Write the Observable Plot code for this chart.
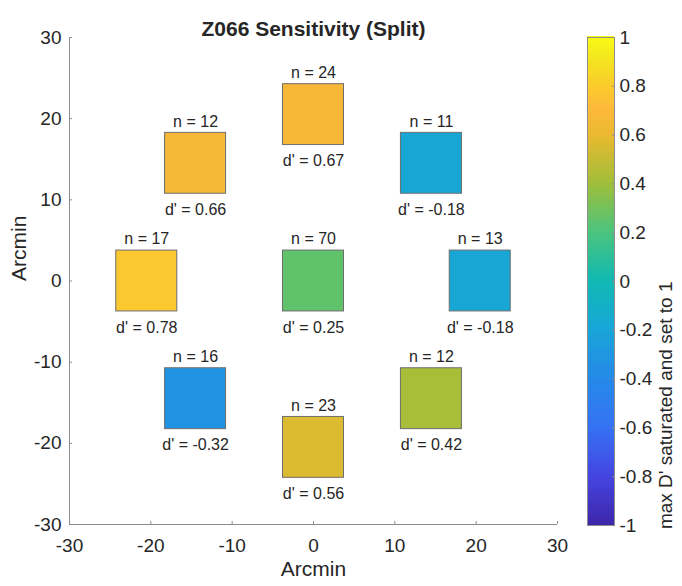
<!DOCTYPE html>
<html>
<head>
<meta charset="utf-8">
<script src="https://cdn.jsdelivr.net/npm/d3@7"></script>
<script src="https://cdn.jsdelivr.net/npm/@observablehq/plot@0.6"></script>
<style>
  html, body { margin: 0; padding: 0; background: white; }
  #wrap { position: relative; width: 682px; height: 586px; }
  #wrap svg { position: absolute; left: 0; top: 0; }
</style>
</head>
<body>
<div id="wrap"></div>
<script>
// ---- data ----
const xPos   = [0, -14.5, 14.5, -20.5, 0, 20.5, -14.5, 0, 14.5];
const yPos   = [20.5, 14.5, 14.5, 0, 0, 0, -14.5, -20.5, -14.5];
const nVals  = [24, 12, 11, 17, 70, 13, 16, 23, 12];
const dVals  = [0.67, 0.66, -0.18, 0.78, 0.25, -0.18, -0.32, 0.56, 0.42];
const axisTicks = [-30, -20, -10, 0, 10, 20, 30];
const cbTicks = [-1, -0.8, -0.6, -0.4, -0.2, 0, 0.2, 0.4, 0.6, 0.8, 1];
const titleText = "Z066 Sensitivity (Split)";
const xLabel = "Arcmin";
const yLabel = "Arcmin";
const cbLabel = "max D' saturated and set to 1";

// parula-like colormap (style)
const cmapStops  = [0, 0.1, 0.2, 0.3, 0.4, 0.5, 0.6, 0.7, 0.8, 0.85, 0.9, 0.95, 1];
const cmapColors = ["#3e26a8", "#4545e2", "#3572f4", "#2589e8", "#19a5d9", "#10b9b3",
                    "#4ac47d", "#a0be3a", "#ebb92f", "#fcb83c", "#fbcc2c", "#f4e321", "#f9fb15"];
const cmapScale = d3.scaleLinear().domain(cmapStops).range(cmapColors).interpolate(d3.interpolateRgb).clamp(true);
const parula = (t) => cmapScale(t);

const data = xPos.map((x, i) => ({x, y: yPos[i], n: nVals[i], d: dVals[i]}));
const half = 3.75; // half side of each square (data units)

const font = "'Liberation Sans', Arial, Helvetica, sans-serif";
const axisColor = "#8c8c8c";
const textColor = "#262626";
const colorOpts = {type: "linear", domain: [-1, 1], interpolate: parula};

const main = Plot.plot({
  width: 682, height: 586,
  marginLeft: 69, marginRight: 125, marginTop: 37, marginBottom: 62,
  x: {domain: [-30, 30], axis: null},
  y: {domain: [-30, 30], axis: null},
  color: colorOpts,
  style: {fontFamily: font, color: textColor, background: "white"},
  marks: [
    Plot.ruleX([-30], {stroke: axisColor}),
    Plot.ruleY([-30], {stroke: axisColor}),
    Plot.axisX({ticks: axisTicks, tickSize: 3, dy: -3, fill: "none", stroke: axisColor, label: null}),
    Plot.axisY({ticks: axisTicks, tickSize: 3, dx: 3, fill: "none", stroke: axisColor, label: null}),
    Plot.axisX({ticks: axisTicks, tickSize: 0, tickPadding: 14, tickFormat: String, fontSize: 19, fill: textColor, label: null}),
    Plot.axisY({ticks: axisTicks, tickSize: 0, tickPadding: 8, tickFormat: String, fontSize: 19, fill: textColor, label: null}),
    Plot.rect(data, {
      x1: d => d.x - half, x2: d => d.x + half,
      y1: d => d.y - half, y2: d => d.y + half,
      fill: "d", stroke: "#6e6e6e", strokeWidth: 1
    }),
    Plot.text(data, {x: "x", y: d => d.y + half, text: d => `n = ${d.n}`, dy: -11.2, fontSize: 16, fill: textColor}),
    Plot.text(data, {x: "x", y: d => d.y - half, text: d => `d' = ${d.d}`, dy: 16, fontSize: 16, fill: textColor}),
    Plot.text([titleText], {frameAnchor: "top", dy: -16, fontSize: 21, fontWeight: "bold", fill: textColor}),
    Plot.text([xLabel], {frameAnchor: "bottom", dy: 51.5, fontSize: 21, fill: textColor}),
    Plot.text([yLabel], {frameAnchor: "left", dx: -50.7, rotate: -90, fontSize: 21, fill: textColor})
  ]
});

const step = 0.01;
const levels = d3.range(-1, 1 - step / 2, step);

const cbar = Plot.plot({
  width: 682, height: 586,
  marginLeft: 587, marginRight: 68, marginTop: 37, marginBottom: 61,
  x: {domain: [0, 1], axis: null},
  y: {domain: [-1, 1], axis: null},
  color: colorOpts,
  style: {fontFamily: font, color: textColor, background: "transparent"},
  marks: [
    Plot.rect(levels, {x1: 0, x2: 1, y1: d => d, y2: d => d + step * 1.3, fill: d => d + step / 2, shapeRendering: "crispEdges"}),
    Plot.frame({stroke: axisColor}),
    Plot.axisY({anchor: "right", ticks: cbTicks, tickSize: 3, dx: -3, fill: "none", stroke: axisColor, label: null}),
    Plot.axisY({anchor: "right", ticks: cbTicks, tickSize: 0, tickPadding: 5, tickFormat: String, fontSize: 19, fill: textColor, label: null}),
    Plot.text([cbLabel], {frameAnchor: "right", dx: 51, rotate: -90, fontSize: 19, fill: textColor})
  ]
});

const wrap = document.getElementById("wrap");
wrap.appendChild(main);
wrap.appendChild(cbar);
</script>
</body>
</html>
